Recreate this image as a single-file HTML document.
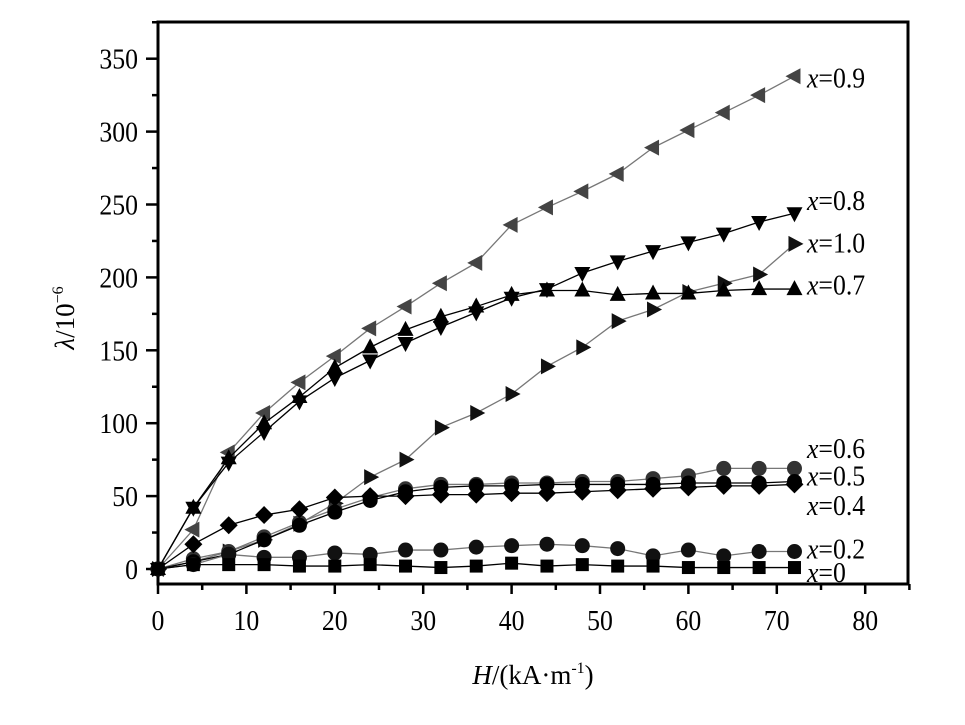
<!DOCTYPE html>
<html><head><meta charset="utf-8"><style>
html,body{margin:0;padding:0;background:#fff;}
svg{display:block;font-family:"Liberation Serif",serif;}
</style></head><body>
<svg id="s" width="965" height="725" xmlns="http://www.w3.org/2000/svg"></svg>
<script>
const s=document.getElementById('s');
const X=v=>158+v*8.84, Y=v=>569-v*1.458;
let h='';
h+='<rect x="158" y="22" width="750" height="562" fill="none" stroke="#000" stroke-width="3"/>';
for(let i=0;i<=85;i+=5){const x=X(i);h+=`<line x1="${x}" y1="584" x2="${x}" y2="${i%10?590:594}" stroke="#000" stroke-width="2.5"/>`;
 if(i%10==0&&i<=80)h+=`<text x="${x}" y="630" font-size="28" text-anchor="middle" transform="translate(${x},0) scale(0.92,1) translate(${-x},0)">${i}</text>`;}
for(let v=0;v<=375;v+=25){const y=Y(v);if(y<22)continue;h+=`<line x1="158" y1="${y}" x2="${v%50?152:146}" y2="${y}" stroke="#000" stroke-width="2.5"/>`;
 if(v%50==0)h+=`<text x="138" y="${y+10}" font-size="28" text-anchor="end" transform="translate(138,0) scale(0.92,1) translate(-138,0)">${v}</text>`;}
h+='<text x="533" y="684" font-size="27" text-anchor="middle"><tspan font-style="italic">H</tspan>/(kA·m<tspan font-size="16" dy="-11">-1</tspan><tspan dy="11">)</tspan></text>';
h+='<text transform="translate(74,318) rotate(-90)" font-size="27" text-anchor="middle"><tspan font-style="italic">λ</tspan>/10<tspan font-size="16" dy="-11">−6</tspan></text>';
const xs=[];for(let i=0;i<=72;i+=4)xs.push(i);
const series=[
 ['0.9','#444','lt',[0,27,80,107,128,146,165,180,196,210,236,248,259,271,289,301,313,325,338],337],
 ['0.8','#000','dt',[0,42,73,94,115,131,143,155,166,176,186,192,203,211,218,224,230,238,244],253],
 ['1.0','#111','rt',[0,5,12,20,31,45,63,75,97,107,120,139,152,170,178,190,196,202,223],224],
 ['0.7','#000','ut',[0,42,76,100,118,138,152,164,173,180,188,191,191,188,189,189,191,192,192],195],
 ['0.6','#333','hx',[0,7,12,22,32,41,49,55,58,58,59,59,60,60,62,64,69,69,69],83],
 ['0.5','#000','ci',[0,5,10,20,30,39,47,53,56,57,57,58,58,58,58,59,59,59,60],64],
 ['0.4','#000','di',[0,17,30,37,41,49,50,50,51,51,52,52,53,54,55,56,57,57,58],44],
 ['0.2','#111','ci',[0,3,10,8,8,11,10,13,13,15,16,17,16,14,9,13,9,12,12],14],
 ['0','#000','sq',[0,3,3,3,2,2,3,2,1,2,4,2,3,2,2,1,1,1,1],-2],
];
function mk(t,x,y,c){
 if(t=='sq')return `<rect x="${x-6.5}" y="${y-6.5}" width="13" height="13" fill="${c}"/>`;
 if(t=='ci'||t=='hx')return `<circle cx="${x}" cy="${y}" r="7.5" fill="${c}"/>`;
 if(t=='di')return `<polygon points="${x},${y-9} ${x+9},${y} ${x},${y+9} ${x-9},${y}" fill="${c}"/>`;
 if(t=='ut')return `<polygon points="${x},${y-9} ${x+8},${y+6} ${x-8},${y+6}" fill="${c}"/>`;
 if(t=='dt')return `<polygon points="${x},${y+9} ${x+8},${y-6} ${x-8},${y-6}" fill="${c}"/>`;
 if(t=='rt')return `<polygon points="${x+9},${y} ${x-6},${y-8} ${x-6},${y+8}" fill="${c}"/>`;
 if(t=='lt')return `<polygon points="${x-9},${y} ${x+6},${y-8} ${x+6},${y+8}" fill="${c}"/>`;}
for(const [n,c,t,d,ly] of series){
 h+=`<polyline fill="none" stroke="${c=='#000'?'#000':'#777'}" stroke-width="1.3" points="${d.map((v,i)=>X(xs[i])+','+Y(v)).join(' ')}"/>`;
 d.forEach((v,i)=>h+=mk(t,X(xs[i]),Y(v),c));
 h+=`<text x="807" y="${Y(ly)+10}" font-size="28" transform="translate(807,0) scale(0.92,1) translate(-807,0)"><tspan font-style="italic">x</tspan>=${n}</text>`;
}
s.innerHTML=h;
</script>
</body></html>
